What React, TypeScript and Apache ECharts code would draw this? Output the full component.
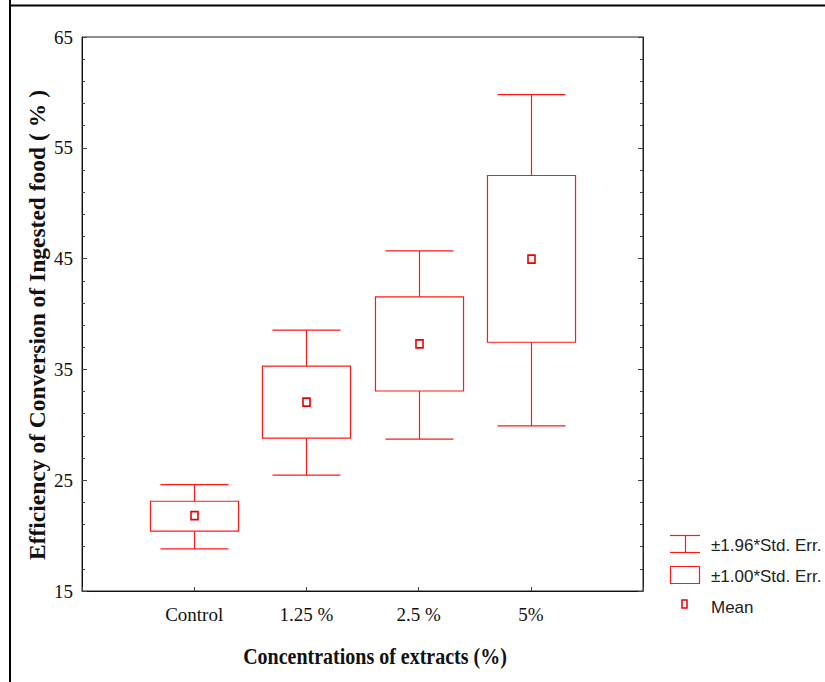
import React, { useEffect, useRef } from "react";
import * as echarts from "echarts";

const categories = ["Control", "1.25 %", "2.5 %", "5%"];
const positions = [1, 2, 3, 4];
const means = [21.8, 32.05, 37.3, 44.95];
const seLow = [20.4, 28.8, 33.05, 37.45];
const seHigh = [23.1, 35.3, 41.55, 52.5];
const ciLow = [18.8, 25.45, 28.7, 29.9];
const ciHigh = [24.6, 38.55, 45.7, 59.8];
const legendLabels = ["±1.96*Std. Err.", "±1.00*Std. Err.", "Mean"];
const xTitle = "Concentrations of extracts (%)";
const yTitle = "Efficiency of Conversion of Ingested food ( % )";

const RED = "#ff1a1a";
const BOX_W = 0.785;
const CAP_W = 0.606;

export default function App() {
  const ref = useRef<HTMLDivElement>(null);
  useEffect(() => {
    if (!ref.current) return;
    const chart = echarts.init(ref.current, null, { renderer: "svg" });
    const rows = positions.map((p, i) => [p, ciLow[i], seLow[i], means[i], seHigh[i], ciHigh[i]]);

    const renderItem = (params: any, api: any) => {
      const x = api.value(0);
      const pCL = api.coord([x, api.value(1)]);
      const pSL = api.coord([x, api.value(2)]);
      const pM = api.coord([x, api.value(3)]);
      const pSH = api.coord([x, api.value(4)]);
      const pCH = api.coord([x, api.value(5)]);
      const bh = api.size([BOX_W, 0])[0] / 2;
      const ch = api.size([CAP_W, 0])[0] / 2;
      const cx = Math.round(pM[0]) + 0.5;
      const ls = { stroke: RED, lineWidth: 1.2, fill: null };
      return {
        type: "group",
        children: [
          { type: "line", shape: { x1: cx - ch, y1: pCH[1], x2: cx + ch, y2: pCH[1] }, style: ls },
          { type: "line", shape: { x1: cx - ch, y1: pCL[1], x2: cx + ch, y2: pCL[1] }, style: ls },
          { type: "line", shape: { x1: cx, y1: pCH[1], x2: cx, y2: pSH[1] }, style: ls },
          { type: "line", shape: { x1: cx, y1: pSL[1], x2: cx, y2: pCL[1] }, style: ls },
          { type: "rect", shape: { x: cx - bh, y: pSH[1], width: 2 * bh, height: pSL[1] - pSH[1] }, style: { stroke: RED, lineWidth: 1.2, fill: "none" } },
          { type: "rect", shape: { x: cx - 3.5, y: pM[1] - 4, width: 7, height: 8 }, style: { stroke: "#ee0000", lineWidth: 1.6, fill: "#fff" } },
        ],
      };
    };

    const legendFont = { fontFamily: "'Liberation Sans', Arial, sans-serif", fontSize: 17, fill: "#222" };

    chart.setOption({
      animation: false,
      backgroundColor: "#fff",
      grid: { left: 82, top: 37, width: 561, height: 554, show: true, borderColor: "#222", borderWidth: 1 },
      xAxis: {
        type: "value",
        min: 0,
        max: 5,
        interval: 1,
        splitLine: { show: false },
        axisLine: { show: true, lineStyle: { color: "#111", width: 1 } },
        axisTick: { show: true, inside: true, length: 4, lineStyle: { color: "#444" } },
        axisLabel: {
          margin: 14,
          fontFamily: "'Liberation Serif', 'Times New Roman', serif",
          fontSize: 19,
          color: "#111",
          formatter: (v: number) => (v >= 1 && v <= 4 ? categories[v - 1] : ""),
        },
      },
      yAxis: [
        {
          type: "value",
          min: 15,
          max: 65,
          interval: 10,
          splitLine: { show: false },
          axisLine: { show: true, lineStyle: { color: "#111", width: 1 } },
          axisTick: { show: true, inside: true, length: 5, lineStyle: { color: "#444" } },
          minorTick: { show: true, splitNumber: 5, length: 3, lineStyle: { color: "#444" } },
          axisLabel: {
            margin: 9,
            fontFamily: "'Liberation Serif', 'Times New Roman', serif",
            fontSize: 19,
            color: "#111",
          },
        },
        {
          type: "value",
          position: "right",
          min: 15,
          max: 65,
          interval: 10,
          splitLine: { show: false },
          axisLine: { show: true, lineStyle: { color: "#222", width: 1 } },
          axisTick: { show: true, inside: true, length: 5, lineStyle: { color: "#444" } },
          minorTick: { show: true, splitNumber: 5, length: 3, lineStyle: { color: "#444" } },
          axisLabel: { show: false },
        },
      ],
      series: [
        {
          type: "custom",
          renderItem,
          data: rows,
          encode: { x: 0, y: [1, 2, 3, 4, 5] },
          clip: false,
          silent: true,
        },
      ],
      graphic: [
        { type: "line", shape: { x1: 10, y1: 0, x2: 10, y2: 682 }, style: { stroke: "#000", lineWidth: 2 } },
        { type: "line", shape: { x1: 9, y1: 5.5, x2: 825, y2: 5.5 }, style: { stroke: "#000", lineWidth: 2 } },
        {
          type: "text",
          x: 375,
          y: 657,
          scaleY: 1.12,
          style: {
            text: xTitle,
            fontFamily: "'Liberation Serif', 'Times New Roman', serif",
            fontWeight: "bold",
            fontSize: 20,
            fill: "#111",
            align: "center",
            verticalAlign: "middle",
          },
        },
        {
          type: "text",
          x: 37,
          y: 325,
          rotation: Math.PI / 2,
          style: {
            text: yTitle,
            fontFamily: "'Liberation Serif', 'Times New Roman', serif",
            fontWeight: "bold",
            fontSize: 23.5,
            fill: "#111",
            align: "center",
            verticalAlign: "middle",
          },
        },
        // legend: whisker icon
        { type: "line", shape: { x1: 670, y1: 535.5, x2: 700, y2: 535.5 }, style: { stroke: RED, lineWidth: 1.2 } },
        { type: "line", shape: { x1: 670, y1: 552.5, x2: 700, y2: 552.5 }, style: { stroke: RED, lineWidth: 1.2 } },
        { type: "line", shape: { x1: 685.5, y1: 535.5, x2: 685.5, y2: 552.5 }, style: { stroke: RED, lineWidth: 1.2 } },
        { type: "text", x: 711, y: 545, style: { ...legendFont, text: legendLabels[0], verticalAlign: "middle" } },
        // legend: box icon
        { type: "rect", shape: { x: 670.5, y: 566.5, width: 29, height: 17 }, style: { stroke: RED, lineWidth: 1.2, fill: "none" } },
        { type: "text", x: 711, y: 576, style: { ...legendFont, text: legendLabels[1], verticalAlign: "middle" } },
        // legend: mean icon
        { type: "rect", shape: { x: 682, y: 600, width: 5, height: 8 }, style: { stroke: "#ee0000", lineWidth: 1.5, fill: "#fff" } },
        { type: "text", x: 711, y: 607, style: { ...legendFont, text: legendLabels[2], verticalAlign: "middle" } },
      ],
    });
    return () => chart.dispose();
  }, []);
  return (
    <div
      ref={ref}
      style={{ position: "absolute", left: 0, top: 0, width: 825, height: 682, background: "#fff" }}
    />
  );
}
